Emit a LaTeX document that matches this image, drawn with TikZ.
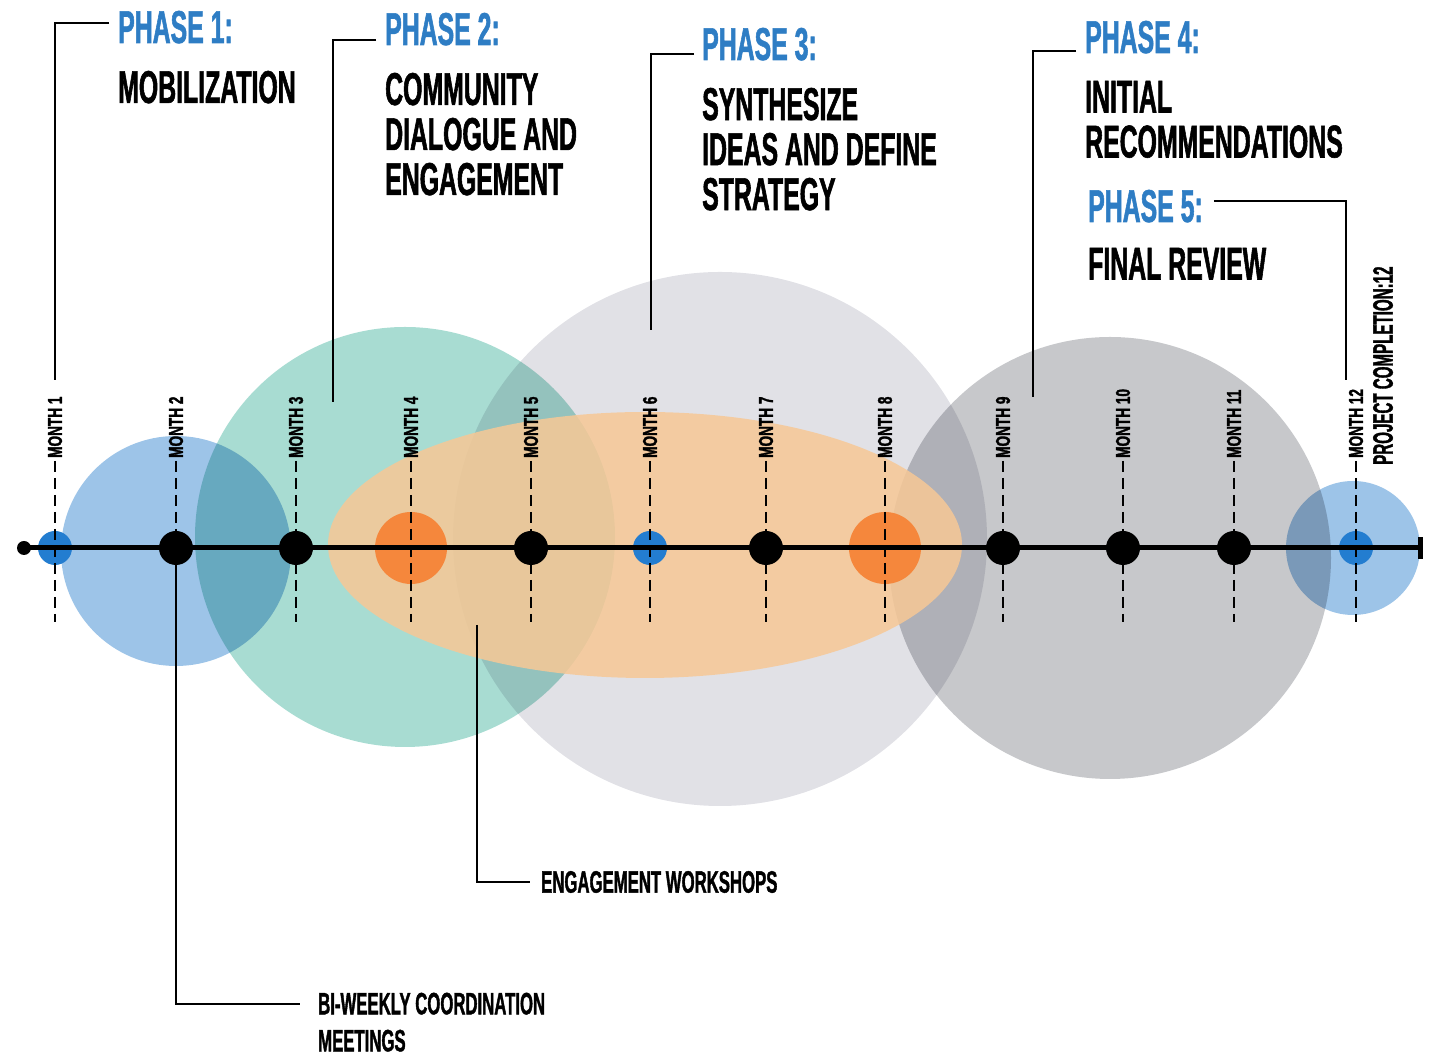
\documentclass[tikz,border=0pt]{standalone}
\usepackage{fontspec}
\newfontfamily\condfont{Liberation Sans}[FakeStretch=0.54, FakeBold=1.2]
\newfontfamily\monthfont{Liberation Sans}[FakeStretch=0.68, FakeBold=1.5]
\usetikzlibrary{positioning}
\definecolor{phaseblue}{RGB}{46,125,196}
\definecolor{dotblue}{RGB}{35,125,208}
\definecolor{dotorange}{RGB}{245,135,60}
\definecolor{circblue}{RGB}{157,196,232}
\definecolor{circteal}{RGB}{168,220,210}
\definecolor{circlight}{RGB}{225,225,230}
\definecolor{circdark}{RGB}{199,200,203}
\definecolor{ellorange}{RGB}{247,200,150}
\tikzset{
  phase head/.style={font=\condfont\bfseries\fontsize{46}{46}\selectfont, text=phaseblue, anchor=base west, inner sep=0pt},
  phase text/.style={font=\condfont\bfseries\fontsize{46}{45}\selectfont, align=left, inner sep=0pt},
  note text/.style={font=\condfont\bfseries\fontsize{31}{37}\selectfont, align=left, inner sep=0pt},
  month label/.style={font=\monthfont\bfseries\fontsize{20}{20}\selectfont, rotate=90, anchor=west, inner sep=0pt},
  leader/.style={draw, line width=1.8pt},
  month line/.style={line width=1.8pt, dash pattern=on 11pt off 6pt},
  timeline/.style={line width=5pt},
  black dot/.style={circle, fill=black, minimum size=34pt, inner sep=0pt},
  blue dot/.style={circle, fill=dotblue, minimum size=34pt, inner sep=0pt},
  orange dot/.style={circle, fill=dotorange, minimum size=72pt, inner sep=0pt}
}
\begin{document}
\begin{tikzpicture}[x=1pt, y=1pt]
  \useasboundingbox (0,0) rectangle (1432,1056);

  % phase areas
  \begin{scope}[blend mode=multiply]
    \fill[circlight] (720,517) circle (267);
    \fill[circteal] (405,519) circle (210);
    \fill[circdark] (1110,498) circle (221);
    \fill[circblue] (176,505) circle (115);
    \fill[circblue] (1353,508) circle (67);
  \end{scope}
  \fill[ellorange, opacity=0.85] (645,511) ellipse (317 and 133);

  % months
  \foreach \x/\i/\kind in {55/1/blue dot,176/2/black dot,296/3/black dot,411/4/orange dot,
      531/5/black dot,650/6/blue dot,766/7/black dot,885/8/orange dot,1003/9/black dot,
      1123/10/black dot,1234/11/black dot,1356/12/blue dot}
    \node[\kind] (m\i) at (\x,508) {};

  \node[circle, fill=black, minimum size=14pt, inner sep=0pt] (tstart) at (24,508) {};
  \node[rectangle, fill=black, minimum width=5pt, minimum height=22pt, inner sep=0pt] (tend) at (1420,508) {};
  \draw[timeline] (tstart.center) -- (tend.center);

  \foreach \x/\i in {55/1,176/2,296/3,411/4,531/5,650/6,766/7,885/8,1003/9,1123/10,1234/11,1356/12}{
    \node[month label] (ml\i) at (\x,598) {MONTH \i};
    \coordinate (mb\i) at (\x,434);
    \draw[month line] ([yshift=-3pt]ml\i.west) -- (mb\i);
  }
  \node[month label, font=\condfont\bfseries\fontsize{28}{28}\selectfont] (done) at (1383,591) {PROJECT COMPLETION:12};

  % phases
  \node[phase head] (ph1) at (118,1013) {PHASE 1:};
  \node[phase text, below=27pt of ph1.south west, anchor=north west] (mobil) {MOBILIZATION};
  \node[phase head] (ph2) at (385,1011) {PHASE 2:};
  \node[phase text, below=27pt of ph2.south west, anchor=north west] (dialog) {COMMUNITY\\DIALOGUE AND\\ENGAGEMENT};
  \node[phase head] (ph3) at (702,996) {PHASE 3:};
  \node[phase text, below=27pt of ph3.south west, anchor=north west] (synth) {SYNTHESIZE\\IDEAS AND DEFINE\\STRATEGY};
  \node[phase head] (ph4) at (1085,1003) {PHASE 4:};
  \node[phase text, below=27pt of ph4.south west, anchor=north west] (recom) {INITIAL\\RECOMMENDATIONS};
  \node[phase head] (ph5) at (1088,834) {PHASE 5:};
  \node[phase text, below=25pt of ph5.south west, anchor=north west] (review) {FINAL REVIEW};

  \coordinate (p1foot) at (55,676);
  \coordinate (p2foot) at (333,654);
  \coordinate (p3foot) at (651,726);
  \coordinate (p4foot) at (1033,659);
  \coordinate (p5foot) at (1346,676);
  \draw[leader] ([xshift=-9pt,yshift=4.5pt]ph1.west) -| (p1foot);
  \draw[leader] ([xshift=-9pt,yshift=-10.5pt]ph2.west) -| (p2foot);
  \draw[leader] ([xshift=-8pt,yshift=-9.5pt]ph3.west) -| (p3foot);
  \draw[leader] ([xshift=-9pt,yshift=-13.5pt]ph4.west) -| (p4foot);
  \draw[leader] ([xshift=11pt,yshift=5.5pt]ph5.east) -| (p5foot);

  % notes
  \coordinate (ewtop) at (477,431);
  \coordinate (ewend) at (530,174);
  \node[note text, right=11pt of ewend] (workshops) {ENGAGEMENT WORKSHOPS};
  \draw[leader] (ewtop) |- (ewend);

  \coordinate (bwend) at (300,52);
  \node[note text, anchor=north west] (biweekly) at ([xshift=18pt,yshift=11.5pt]bwend) {BI-WEEKLY COORDINATION\\MEETINGS};
  \draw[leader] (m2) |- (bwend);

\end{tikzpicture}
\end{document}
